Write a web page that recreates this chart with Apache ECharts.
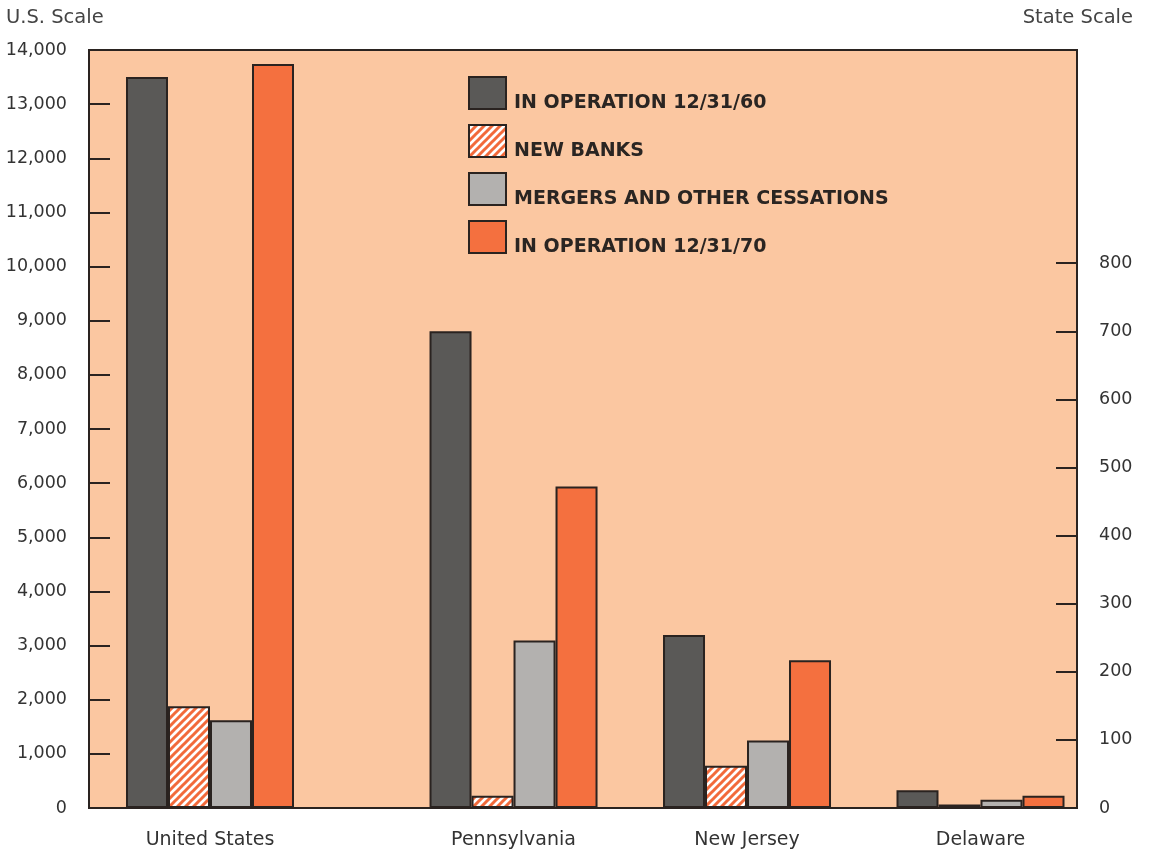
<!DOCTYPE html>
<html><head><meta charset="utf-8">
<script src="https://cdn.jsdelivr.net/npm/echarts@6/dist/echarts.min.js"></script>
<style>html,body{margin:0;padding:0;background:#fff;}#c{width:1149px;height:852px;}</style>
</head><body><div id="c"></div>
<script>
// ---- data ----
const categories = ['United States', 'Pennsylvania', 'New Jersey', 'Delaware'];
const seriesNames = ['IN OPERATION 12/31/60', 'NEW BANKS', 'MERGERS AND OTHER CESSATIONS', 'IN OPERATION 12/31/70'];
const inOperation1960 = [13500, 700, 254, 26];
const newBanks        = [1880, 18, 62, 5];
const mergers         = [1620, 246, 99, 12];
const inOperation1970 = [13740, 472, 217, 18];
const usScaleMax = 14000, usScaleStep = 1000;
const stateTicks = [0, 100, 200, 300, 400, 500, 600, 700, 800];
const stateScaleMax = 1113;

// ---- layout (slot positions of categories on a fine category axis) ----
const slotIndex = [0, 13, 23, 33];
const nSlots = 34;
const unit = 23.35;
const W = 1149, H = 852;
const frame = {left: 89, right: 72, top: 50, bottom: 44};
const barGridLeft = 210 - unit / 2;
const barGridRight = W - (980.5 + unit / 2);

const axisData = new Array(nSlots).fill('');
slotIndex.forEach((s, i) => { axisData[s] = categories[i]; });

function slotData(values, which) {
  const arr = new Array(nSlots).fill('-');
  which.forEach(i => { arr[slotIndex[i]] = values[i]; });
  return arr;
}

function hatch() {
  const c = document.createElement('canvas');
  c.width = 8; c.height = 8;
  const g = c.getContext('2d');
  g.fillStyle = '#ffffff'; g.fillRect(0, 0, 8, 8);
  g.strokeStyle = '#f26a3b'; g.lineWidth = 3;
  g.beginPath();
  g.moveTo(-2, 10); g.lineTo(10, -2);
  g.moveTo(-2, 2); g.lineTo(2, -2);
  g.moveTo(6, 10); g.lineTo(10, 6);
  g.stroke();
  return c;
}

const ink = '#2a2320';
const colors = ['#5a5957', {image: hatch(), repeat: 'repeat'}, '#b3b1af', '#f4703f'];
const valueSets = [inOperation1960, newBanks, mergers, inOperation1970];
const font = 'DejaVu Sans';

const series = [];
valueSets.forEach((vals, k) => {
  series.push({
    name: seriesNames[k], type: 'bar', xAxisIndex: 1, yAxisIndex: 1,
    barWidth: 42, barGap: '0%', clip: false,
    data: slotData(vals, [0]),
    itemStyle: {color: colors[k], borderColor: ink, borderWidth: 2},
    emphasis: {disabled: true}
  });
});
valueSets.forEach((vals, k) => {
  series.push({
    name: seriesNames[k], type: 'bar', xAxisIndex: 2, yAxisIndex: 2,
    barWidth: 42, barGap: '0%', clip: false,
    data: slotData(vals, [1, 2, 3]),
    itemStyle: {color: colors[k], borderColor: ink, borderWidth: 2},
    emphasis: {disabled: true}
  });
});

const chart = echarts.init(document.getElementById('c'), null, {renderer: 'canvas'});
chart.setOption({
  animation: false,
  backgroundColor: '#ffffff',
  title: [
    {text: 'U.S. Scale', left: 6, top: 8, padding: 0,
     textStyle: {fontFamily: font, fontSize: 19.5, fontWeight: 'normal', color: '#444'}},
    {text: 'State Scale', right: 16, top: 8, padding: 0,
     textStyle: {fontFamily: font, fontSize: 19.5, fontWeight: 'normal', color: '#444'}}
  ],
  legend: {
    orient: 'vertical', left: 463, top: 71, itemWidth: 37, itemHeight: 32, itemGap: 11.5,
    icon: 'rect', selectedMode: false,
    data: seriesNames,
    formatter: name => '{pad| }\n{t|' + name + '}',
    textStyle: {
      rich: {
        pad: {fontSize: 4, lineHeight: 20},
        t: {fontFamily: font, fontWeight: 'bold', fontSize: 19, color: '#2a2522', lineHeight: 22, padding: [0, 0, 0, 3]}
      }
    }
  },
  grid: [
    {left: frame.left, right: frame.right, top: frame.top, bottom: frame.bottom, show: true,
     backgroundColor: '#fbc7a1', borderColor: ink, borderWidth: 2, z: 0},
    {left: barGridLeft, right: barGridRight, top: frame.top, bottom: frame.bottom},
    {left: barGridLeft, right: barGridRight, top: frame.top, bottom: frame.bottom}
  ],
  xAxis: [
    {gridIndex: 0, type: 'value', show: false},
    {gridIndex: 1, type: 'category', data: axisData, boundaryGap: true,
     axisLine: {show: false}, axisTick: {show: false}, splitLine: {show: false},
     axisLabel: {interval: 0, margin: 23, fontFamily: font, fontSize: 19, color: '#333'}},
    {gridIndex: 2, type: 'category', data: axisData, boundaryGap: true, show: false}
  ],
  yAxis: [
    {gridIndex: 0, type: 'value', show: false},
    {gridIndex: 1, type: 'value', position: 'left', offset: barGridLeft - frame.left,
     min: 0, max: usScaleMax, interval: usScaleStep,
     axisLine: {show: false}, splitLine: {show: false},
     axisTick: {show: true, inside: true, length: 21, lineStyle: {color: ink, width: 2}},
     axisLabel: {margin: 22, fontFamily: font, fontSize: 17.5, color: '#333',
       formatter: v => v.toLocaleString('en-US')}},
    {gridIndex: 2, type: 'value', position: 'right', offset: (W - frame.right) - (W - barGridRight),
     min: 0, max: stateScaleMax, interval: 100,
     axisLine: {show: false}, splitLine: {show: false},
     axisTick: {show: true, inside: true, length: 21, customValues: stateTicks, lineStyle: {color: ink, width: 2}},
     axisLabel: {margin: 22, fontFamily: font, fontSize: 17.5, color: '#333', customValues: stateTicks}}
  ],
  series: series
});
</script>
</body></html>
